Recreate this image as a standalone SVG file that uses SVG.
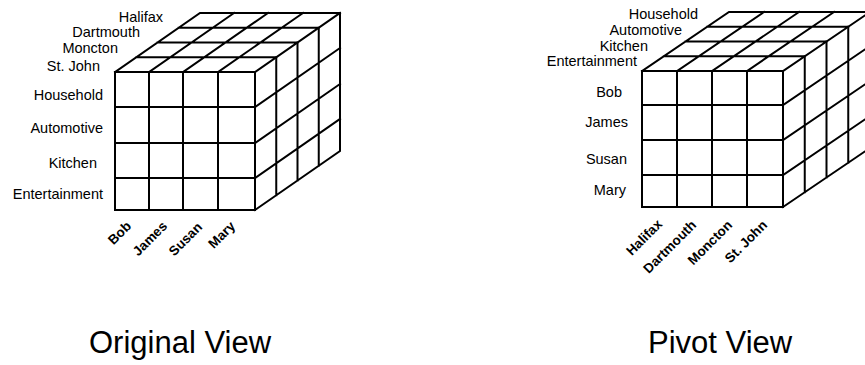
<svg xmlns="http://www.w3.org/2000/svg" width="865" height="365" viewBox="0 0 865 365">
<style>
.ln{stroke:#000;stroke-width:2;fill:none;stroke-linecap:square}
.lb{font-family:"Liberation Sans",Arial,sans-serif;font-size:14.5px;fill:#000;text-anchor:end}
.rl{font-family:"Liberation Sans",Arial,sans-serif;font-size:13.5px;font-weight:bold;fill:#000;text-anchor:end}
.tt{font-family:"Liberation Sans",Arial,sans-serif;font-size:31px;fill:#000}
</style>
<rect width="865" height="365" fill="#fff"/>
<g id="original-cube">
<path class="ln" d="M115,72H255V210H115Z M149,72V210 M183,72V210 M218,72V210 M115,107H255 M115,143H255 M115,178H255"/>
<path class="ln" d="M115,72L200,13H340 M136.25,57.25H276.25 M157.5,42.5H297.5 M178.75,27.75H318.75 M149,72L234,13 M183,72L268,13 M218,72L303,13 M255,72L340,13"/>
<path class="ln" d="M340,13V151L255,210 M276.25,57.25V195.25 M297.5,42.5V180.5 M318.75,27.75V165.75 M255,107L340,48 M255,143L340,84 M255,178L340,119"/>
</g>
<g id="original-labels">
<text class="lb" x="163" y="22">Halifax</text>
<text class="lb" x="140" y="37">Dartmouth</text>
<text class="lb" x="118" y="53">Moncton</text>
<text class="lb" x="100" y="70.5">St. John</text>
<text class="lb" x="103" y="100">Household</text>
<text class="lb" x="103" y="133">Automotive</text>
<text class="lb" x="97" y="168">Kitchen</text>
<text class="lb" x="103" y="199">Entertainment</text>
<text class="rl" transform="translate(132,227) rotate(-45)">Bob</text>
<text class="rl" transform="translate(168,227) rotate(-45)">James</text>
<text class="rl" transform="translate(203,228) rotate(-45)">Susan</text>
<text class="rl" transform="translate(236,227) rotate(-45)">Mary</text>
</g>
<g id="pivot-cube">
<path class="ln" d="M642,71H783V207H642Z M677,71V207 M712,71V207 M747,71V207 M642,105H783 M642,140H783 M642,175H783"/>
<path class="ln" d="M642,71L729,12H870 M663.75,56.25H804.75 M685.5,41.5H826.5 M707.25,26.75H848.25 M677,71L764,12 M712,71L799,12 M747,71L834,12 M783,71L870,12"/>
<path class="ln" d="M870,12V148L783,207 M804.75,56.25V192.25 M826.5,41.5V177.5 M848.25,26.75V162.75 M783,105L870,46 M783,140L870,81 M783,175L870,116"/>
</g>
<g id="pivot-labels">
<text class="lb" x="698" y="18.5">Household</text>
<text class="lb" x="682" y="35">Automotive</text>
<text class="lb" x="648" y="50.5">Kitchen</text>
<text class="lb" x="637" y="66">Entertainment</text>
<text class="lb" x="622" y="97">Bob</text>
<text class="lb" x="628" y="127">James</text>
<text class="lb" x="627" y="164">Susan</text>
<text class="lb" x="626" y="195">Mary</text>
<text class="rl" transform="translate(663,225) rotate(-45)">Halifax</text>
<text class="rl" transform="translate(697,226) rotate(-45)">Dartmouth</text>
<text class="rl" transform="translate(733,226) rotate(-45)">Moncton</text>
<text class="rl" transform="translate(768,226) rotate(-45)">St. John</text>
</g>
<g id="titles">
<text class="tt" x="180" y="353" text-anchor="middle">Original View</text>
<text class="tt" x="648" y="353">Pivot View</text>
</g>
<g id="connectors"/>
</svg>
